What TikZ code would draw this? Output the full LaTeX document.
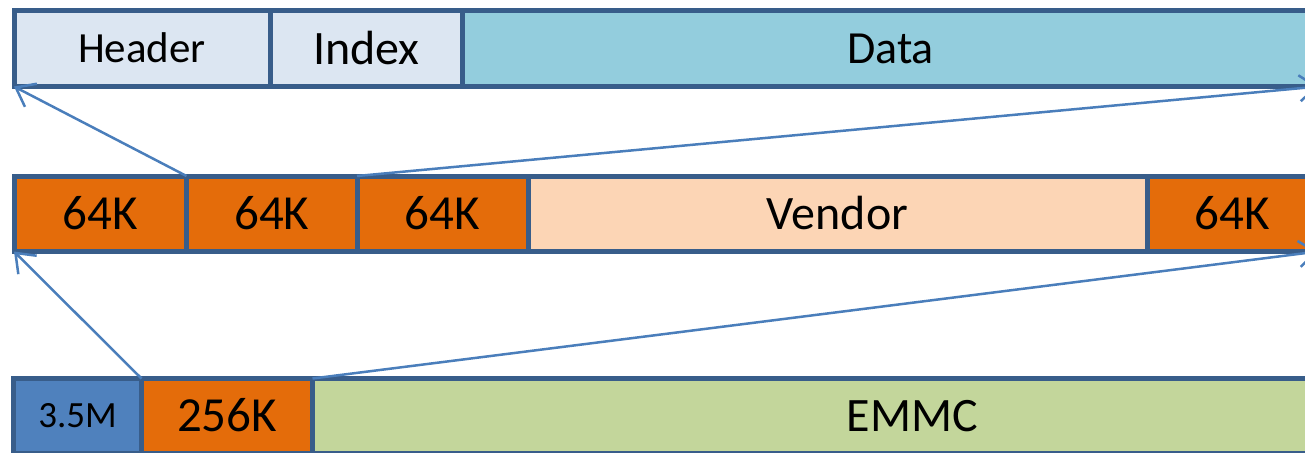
\documentclass[tikz,border=0pt]{standalone}
\usepackage{fontspec}
\setmainfont{Carlito}
\usetikzlibrary{arrows.meta}
\definecolor{bordc}{HTML}{385D8A}
\definecolor{arrc}{HTML}{4A7EBB}
\definecolor{lightc}{HTML}{DCE6F2}
\definecolor{datac}{HTML}{93CDDD}
\definecolor{orangec}{HTML}{E46C0A}
\definecolor{vendc}{HTML}{FCD5B5}
\definecolor{bluec}{HTML}{4F81BD}
\definecolor{greenc}{HTML}{C3D69B}
\tikzset{
  cell/.style={draw=bordc, line width=5pt, inner sep=0pt, outer sep=0pt,
    anchor=north west, text depth=0pt, line join=miter},
  conn/.style={draw=arrc, line width=2.5pt, -{Straight Barb[length=17pt,width=26pt,line width=2.5pt]}},
}
\newcommand{\fsz}[1]{\fontsize{#1pt}{#1pt}\selectfont}
\begin{document}
\begin{tikzpicture}[x=1pt,y=-1pt]
\useasboundingbox (0,0) rectangle (1305,452);
\clip (0,0) rectangle (1305,452);
% top row
\node[cell, fill=lightc, minimum width=256pt, minimum height=75.5pt, font=\fsz{43}, text height=27.6pt] (header) at (14,11) {Header};
\node[cell, fill=lightc, minimum width=192.5pt, minimum height=75.5pt, font=\fsz{48}, text height=30.8pt] (index) at (270,11) {Index};
\node[cell, fill=datac, minimum width=856pt, minimum height=75.5pt, font=\fsz{46}, text height=29.5pt] (data) at (462.5,11) {Data};
% middle row
\node[cell, fill=orangec, minimum width=172.5pt, minimum height=75.5pt, font=\fsz{49}, text height=31.4pt] (ka) at (14,176) {64K};
\node[cell, fill=orangec, minimum width=170.5pt, minimum height=75.5pt, font=\fsz{49}, text height=31.4pt] (kb) at (186.5,176) {64K};
\node[cell, fill=orangec, minimum width=171pt, minimum height=75.5pt, font=\fsz{49}, text height=31.4pt] (kc) at (357,176) {64K};
\node[cell, fill=vendc, minimum width=619pt, minimum height=75.5pt, font=\fsz{48}, text height=30.8pt] (vendor) at (528,176) {Vendor};
\node[cell, fill=orangec, minimum width=171pt, minimum height=75.5pt, font=\fsz{49}, text height=31.4pt] (kd) at (1147,176) {64K};
% bottom row
\node[cell, fill=bluec, minimum width=128pt, minimum height=74.5pt, font=\fsz{37}, text height=23.7pt] (boot) at (13.5,378.5) {3.5M};
\node[cell, fill=orangec, minimum width=171pt, minimum height=74.5pt, font=\fsz{49}, text height=31.4pt] (part) at (141.5,378.5) {256K};
\node[cell, fill=greenc, minimum width=1200pt, minimum height=74.5pt, font=\fsz{48}, text height=30.8pt] (emmc) at (312.5,378.5) {EMMC};
% connectors
\draw[conn] (ka.north east) -- (header.south west);
\draw[conn] (kb.north east) -- (data.south east);
\draw[conn] (boot.north east) -- (ka.south west);
\draw[conn] (part.north east) -- (kd.south east);
\end{tikzpicture}
\end{document}
